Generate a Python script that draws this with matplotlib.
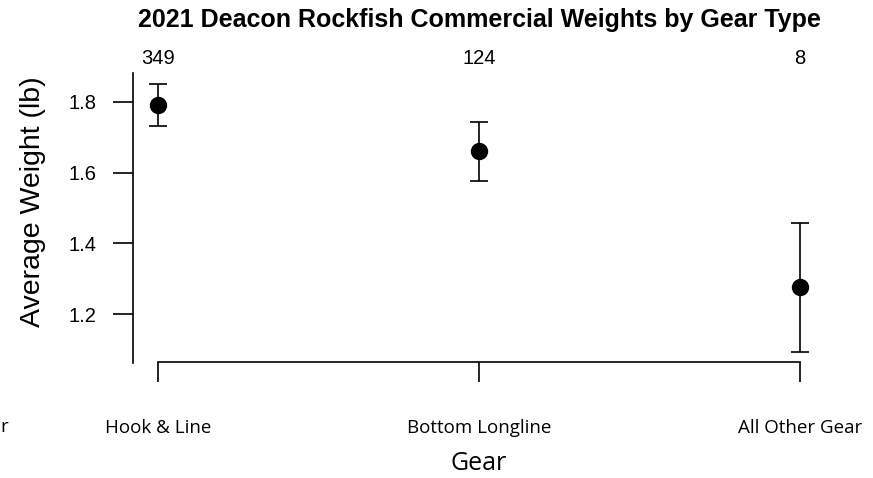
import matplotlib
matplotlib.use("Agg")
import matplotlib.pyplot as plt

# data
gears = ["Hook & Line", "Bottom Longline", "All Other Gear"]
counts = [349, 124, 8]
mean_wt = [1.792, 1.661, 1.277]
upper = [1.851, 1.743, 1.458]
lower = [1.732, 1.577, 1.093]
yticks = [1.2, 1.4, 1.6, 1.8]

W, H = 873, 478
fig = plt.figure(figsize=(W / 100, H / 100), dpi=100)

# axes box in pixel coords (left, top, right, bottom)
l, t, r, b = 133, 73, 825, 363
ax = fig.add_axes([l / W, 1 - b / H, (r - l) / W, (b - t) / H])

x = list(range(1, len(gears) + 1))
yerr = [[m - lo for m, lo in zip(mean_wt, lower)],
        [u - m for m, u in zip(mean_wt, upper)]]
ax.errorbar(x, mean_wt, yerr=yerr, fmt="o", color="black", ms=11.5,
            elinewidth=1.2, capsize=6.7, capthick=1.2)

ax.set_xlim(1 - 25 / 321, 3 + 25 / 321)
ax.set_ylim(1.0617, 1.882)

for s in ["top", "right"]:
    ax.spines[s].set_visible(False)
ax.spines["left"].set_linewidth(1.2)
ax.spines["bottom"].set_linewidth(1.2)
ax.spines["bottom"].set_bounds(1, 3)
ax.spines["bottom"].set_position(("outward", -1))

ax.set_yticks(yticks)
ax.set_yticklabels([f"{v:.1f}" for v in yticks], fontsize=14.5,
                   family="Liberation Sans")
ax.set_xticks(x)
ax.set_xticklabels(gears, fontsize=13.5, family="Open Sans")
ax.tick_params(axis="both", length=14.4, width=1.2)
ax.tick_params(axis="y", pad=12)
ax.tick_params(axis="x", pad=27)

# sample sizes above each gear
for xi, n in zip(x, counts):
    ax.text(xi, 1.8 + (102 - 59) / 353.5, str(n), ha="center",
            va="center", fontsize=14.5, family="Liberation Sans",
            clip_on=False)

fig.text(33 / W, 1 - 202 / H, "Average Weight (lb)", rotation=90,
         ha="center", va="center", fontsize=20.5, family="Liberation Sans")
fig.text(479 / W, 1 - 463 / H, "Gear", ha="center", va="center",
         fontsize=18, family="Open Sans")
fig.text(479 / W, 1 - 20 / H,
         "2021 Deacon Rockfish Commercial Weights by Gear Type",
         ha="center", va="center", fontsize=18, fontweight="bold",
         family="Liberation Sans")

# fragment of a label left of the plot
fig.text(0 / W, 1 - 427 / H, "r", ha="left", va="center",
         fontsize=13.5, family="Open Sans")

fig.savefig("out.png", dpi=100)
